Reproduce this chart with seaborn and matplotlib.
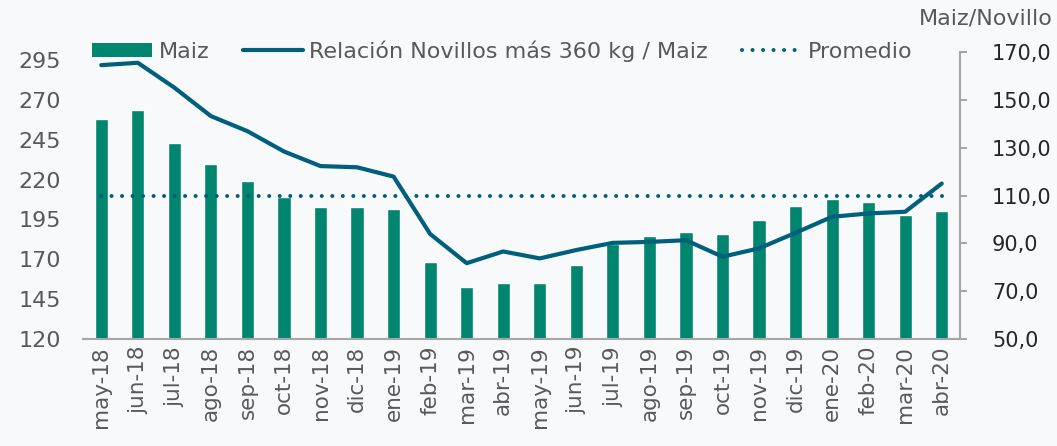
import numpy as np
import pandas as pd
import matplotlib
matplotlib.use("Agg")
import matplotlib.pyplot as plt
from matplotlib.patches import Patch
from matplotlib.lines import Line2D
import seaborn as sns

meses = ["may-18", "jun-18", "jul-18", "ago-18", "sep-18", "oct-18", "nov-18",
         "dic-18", "ene-19", "feb-19", "mar-19", "abr-19", "may-19", "jun-19",
         "jul-19", "ago-19", "sep-19", "oct-19", "nov-19", "dic-19", "ene-20",
         "feb-20", "mar-20", "abr-20"]
maiz = [257.9, 263.8, 242.9, 229.6, 219.2, 208.9, 202.8, 202.8, 201.5, 168.6,
        152.3, 155.3, 154.9, 166.6, 179.5, 184.3, 187.2, 185.8, 194.5, 203.3,
        207.7, 206.2, 197.7, 200.4]
relacion = [164.5, 165.5, 155.1, 143.2, 136.9, 128.4, 122.3, 121.8, 117.9, 93.9,
            81.7, 86.6, 83.7, 87.2, 90.2, 90.6, 91.3, 84.4, 87.9, 94.4,
            101.1, 102.5, 103.2, 115.0]
promedio = 110.0

left_ticks = [120, 145, 170, 195, 220, 245, 270, 295]
right_ticks = [50, 70, 90, 110, 130, 150, 170]

BG = "#F7F9FA"
BAR = "#00856F"
LINE = "#005F7D"
TXT = "#595959"
SPINE = "#A6A6A6"
DOTS = (0.01, 2.6)

sns.set_theme(style="white")
plt.rcParams['font.family'] = ['DejaVu Sans']

df = pd.DataFrame({"mes": meses, "maiz": maiz, "relacion": relacion,
                   "pos": np.arange(len(meses)), "promedio": [promedio] * len(meses)})

fig = plt.figure(figsize=(10.57, 4.46), dpi=100, facecolor=BG)
ax = fig.add_axes([83 / 1057, 1 - 339 / 446, (960 - 83) / 1057, (339 - 52) / 446])
ax.set_facecolor(BG)

sns.barplot(data=df, x="mes", y="maiz", color=BAR, saturation=1, width=0.36,
            ax=ax, zorder=2)
ax.set_ylim(120, 300)
ax.set_xlim(-0.5, len(meses) - 0.5)
ax.set_yticks(left_ticks)
ax.set_yticklabels([str(v) for v in left_ticks])
ax.set_xlabel("")
ax.set_ylabel("")
ax.tick_params(axis="y", length=0, pad=16, labelsize=16, labelcolor=TXT)
ax.tick_params(axis="x", length=0, pad=5, labelsize=15.5, labelcolor=TXT, rotation=90)
for s in ["left", "top", "right"]:
    ax.spines[s].set_visible(False)
ax.spines["bottom"].set_color(SPINE)
ax.spines["bottom"].set_linewidth(1.5)

ax2 = ax.twinx()
sns.lineplot(data=df, x="pos", y="promedio", ax=ax2, color=LINE, linewidth=2.9,
             zorder=3)
ax2.lines[-1].set_dashes(DOTS)
ax2.lines[-1].set_dash_capstyle("round")
sns.lineplot(data=df, x="pos", y="relacion", ax=ax2, color=LINE, linewidth=3.0,
             zorder=4)
ax2.lines[-1].set_solid_joinstyle("round")
ax2.lines[-1].set_solid_capstyle("round")
ax2.set_ylim(50, 170)
ax2.set_xlim(-0.5, len(meses) - 0.5)
ax2.set_yticks(right_ticks)
ax2.set_yticklabels([f"{v:.1f}".replace(".", ",") for v in right_ticks])
ax2.set_xlabel("")
ax2.set_ylabel("")
ax2.tick_params(axis="y", length=5, width=1.5, color=SPINE, pad=18,
                labelsize=15, labelcolor="#262626", direction="out")
for s in ["left", "top", "bottom"]:
    ax2.spines[s].set_visible(False)
ax2.spines["right"].set_color(SPINE)
ax2.spines["right"].set_linewidth(1.5)

fig.text(1053 / 1057, 1 - 18 / 446, "Maiz/Novillo", ha="right", va="center",
         fontsize=16, color=TXT)

handles = [
    Patch(facecolor=BAR, edgecolor="none"),
    Line2D([], [], color=LINE, linewidth=3.0, solid_capstyle="round"),
    Line2D([], [], color=LINE, linewidth=2.9, dashes=DOTS, dash_capstyle="round"),
]
labels = ["Maiz", "Relación Novillos más 360 kg / Maiz", "Promedio"]
leg = fig.legend(handles, labels, loc="center left",
                 bbox_to_anchor=(92 / 1057, 1 - 51 / 446), ncol=3, frameon=False,
                 fontsize=16, handlelength=2.7, handleheight=0.55,
                 handletextpad=0.3, columnspacing=1.5, borderpad=0, borderaxespad=0)
for t in leg.get_texts():
    t.set_color(TXT)

fig.savefig("out.png", dpi=100, facecolor=BG)
